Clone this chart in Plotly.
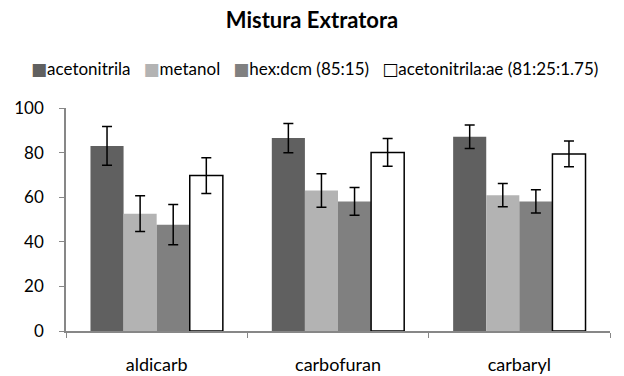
import plotly.graph_objects as go

categories = ["aldicarb", "carbofuran", "carbaryl"]
series_names = ["acetonitrila", "metanol", "hex:dcm (85:15)", "acetonitrila:ae (81:25:1.75)"]
acetonitrila = [83.0, 86.5, 87.1]
acetonitrila_err = [8.7, 6.6, 5.3]
metanol = [52.6, 63.0, 60.9]
metanol_err = [8.0, 7.5, 5.2]
hexdcm = [47.7, 58.1, 58.1]
hexdcm_err = [9.0, 6.2, 5.2]
acn_ae = [69.7, 80.1, 79.4]
acn_ae_err = [8.0, 6.2, 5.8]

values = [acetonitrila, metanol, hexdcm, acn_ae]
errors = [acetonitrila_err, metanol_err, hexdcm_err, acn_ae_err]
fills = ["#606060", "#b3b3b3", "#808080", "#ffffff"]
lines = [0, 0, 0, 1.5]

FONT = "Lato, 'Open Sans', sans-serif"
AXIS = "#878787"

fig = go.Figure()
for name, v, e, c, lw in zip(series_names, values, errors, fills, lines):
    fig.add_trace(go.Bar(
        name=name, x=categories, y=v,
        marker=dict(color=c, line=dict(color="#000000", width=lw)),
        error_y=dict(type="data", array=e, visible=True, color="#000000",
                     thickness=1.5, width=5),
        showlegend=False,
    ))

# legend row (Excel style: small square key directly before each label)
parts = []
for name, c in zip(series_names, fills):
    if c.lower() == "#ffffff":
        key = "<span style='font-family:DejaVu Sans;color:#000000'>\u25A1</span>"
    else:
        key = f"<span style='font-family:DejaVu Sans;color:{c}'>\u25A0</span>"
    parts.append(key + name)
legend_text = "\u00a0\u00a0\u00a0".join(parts)

fig.add_annotation(
    text=legend_text, xref="paper", yref="paper", x=0.457, y=1.179,
    xanchor="center", yanchor="middle", showarrow=False,
    font=dict(family=FONT, size=17, color="#000000"),
)

fig.update_layout(
    width=624, height=376,
    margin=dict(l=66, r=14, t=108, b=45, autoexpand=False),
    paper_bgcolor="white", plot_bgcolor="white",
    barmode="group", bargap=0.27, bargroupgap=0,
    font=dict(family=FONT, size=15, color="#000000"),
    title=dict(text="<b>Mistura Extratora</b>", x=0.5, xanchor="center",
               y=0.947, yanchor="middle", font=dict(size=22, family=FONT)),
    showlegend=False,
)
fig.update_xaxes(
    showline=True, linecolor=AXIS, linewidth=1.5,
    ticks="outside", tickson="boundaries", ticklen=5, tickcolor=AXIS,
    tickfont=dict(size=18), showgrid=False, ticklabelstandoff=17,
    automargin=False,
)
fig.update_yaxes(
    range=[0, 100], dtick=20, showline=True, linecolor=AXIS, linewidth=1.5,
    ticks="outside", ticklen=5, tickcolor=AXIS, showgrid=False,
    tickfont=dict(size=17), zeroline=False, ticklabelstandoff=12,
    automargin=False,
)

fig.write_html("out.html")
